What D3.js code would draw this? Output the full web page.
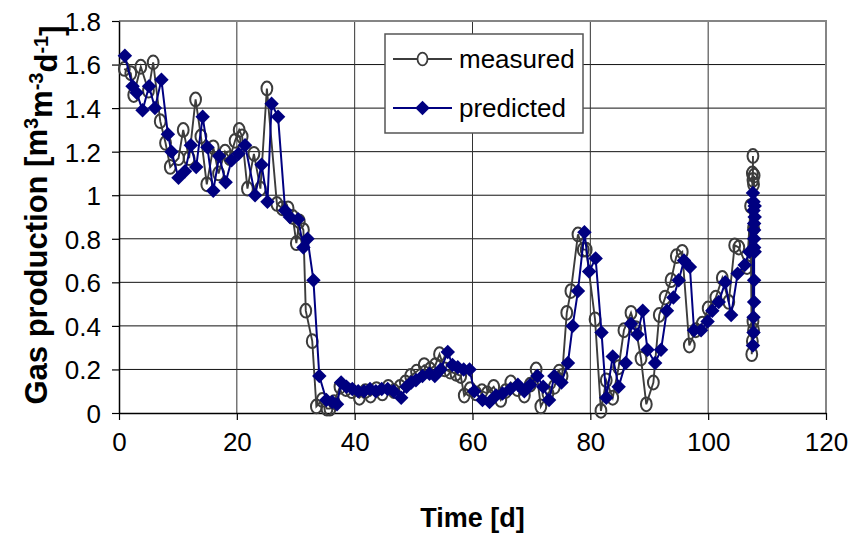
<!DOCTYPE html>
<html>
<head>
<meta charset="utf-8">
<script src="https://cdn.jsdelivr.net/npm/d3@7"></script>
<style>
  body { margin: 0; background: #fff; }
  text { font-family: "Liberation Sans", Arial, sans-serif; fill: #000; }
</style>
</head>
<body>
<div id="chart"></div>
<script>
// measured gas production (time in days, value in m3 m-3 d-1)
const measuredTime = [0.9, 2.0, 2.5, 3.7, 5.0, 5.8, 7.0, 7.9, 8.7, 10.1, 10.9, 11.9, 13.0, 13.9, 14.9, 16.0, 16.9, 18.0, 18.8, 19.7,
  20.4, 20.9, 21.8, 22.9, 24.0, 25.1, 26.8, 27.7, 28.7, 29.5, 30.1, 30.6, 31.3, 31.7, 32.8, 33.5, 34.5, 35.3, 35.8, 36.5,
  37.5, 38.5, 39.5, 40.8, 41.8, 42.7, 43.7, 44.7, 45.7, 46.7, 47.7, 48.6, 49.5, 50.5, 51.8, 52.8, 53.7, 54.4, 55.3, 56.2,
  57.2, 58.0, 58.6, 59.6, 60.6, 61.6, 62.5, 63.6, 64.8, 65.6, 66.5, 67.6, 68.8, 69.8, 70.8, 71.6, 72.8, 73.9, 74.7, 75.2,
  76.0, 76.7, 77.9, 78.8, 79.3, 80.8, 81.8, 82.7, 83.8, 84.8, 85.7, 86.9, 87.7, 88.6, 89.5, 90.7, 91.7, 92.7, 93.7, 94.6,
  95.6, 96.8, 97.9, 99.0, 100.0, 101.3, 102.4, 103.5, 104.5, 105.2, 106.6, 107.2, 107.4, 107.5, 107.5, 107.6, 107.6, 107.6,
  107.7, 107.7, 107.7, 107.8];
const measured = [1.58, 1.56, 1.46, 1.59, 1.48, 1.61, 1.34, 1.24, 1.13, 1.17, 1.30, 1.17, 1.44, 1.27, 1.05, 1.22, 1.10, 1.20, 1.17, 1.25,
  1.30, 1.27, 1.03, 1.19, 1.03, 1.49, 0.96, 0.94, 0.94, 0.90, 0.78, 0.88, 0.84, 0.47, 0.33, 0.03, 0.06, 0.02, 0.02, 0.05,
  0.12, 0.11, 0.10, 0.07, 0.10, 0.08, 0.11, 0.09, 0.12, 0.10, 0.12, 0.14, 0.17, 0.19, 0.22, 0.20, 0.22, 0.27, 0.20, 0.19,
  0.18, 0.17, 0.08, 0.11, 0.09, 0.10, 0.09, 0.12, 0.06, 0.10, 0.14, 0.11, 0.08, 0.13, 0.20, 0.03, 0.09, 0.12, 0.19, 0.17,
  0.46, 0.56, 0.82, 0.75, 0.75, 0.43, 0.01, 0.15, 0.07, 0.21, 0.38, 0.46, 0.39, 0.25, 0.04, 0.14, 0.45, 0.53, 0.61, 0.72,
  0.74, 0.31, 0.38, 0.41, 0.48, 0.53, 0.62, 0.51, 0.77, 0.76, 0.67, 0.95, 0.27, 1.10, 0.33, 1.18, 0.42, 1.07,
  0.38, 1.05, 0.85, 1.09];

// predicted gas production
const predictedTime = [1.0, 2.3, 3.0, 4.0, 5.1, 6.1, 7.2, 8.3, 8.9, 10.1, 11.2, 12.2, 13.1, 14.2, 15.0, 16.0, 17.0, 18.1, 19.1, 20.3,
  21.4, 23.1, 24.2, 25.2, 25.9, 27.0, 28.2, 29.0, 30.4, 31.3, 32.0, 33.0, 34.0, 35.2, 36.2, 37.0, 37.7, 38.6, 39.6, 40.6,
  41.6, 42.6, 43.6, 44.6, 45.6, 46.6, 47.9, 48.8, 49.6, 50.4, 51.5, 52.7, 53.6, 54.6, 55.8, 56.6, 57.5, 58.5, 59.5, 60.3,
  61.7, 62.9, 64.0, 65.1, 66.4, 67.7, 68.8, 69.8, 71.0, 72.0, 73.0, 73.9, 75.1, 76.2, 77.0, 77.9, 79.0, 79.8, 80.9, 81.9,
  82.7, 83.8, 84.8, 86.0, 86.9, 88.0, 88.9, 89.7, 91.0, 92.0, 93.0, 94.1, 95.0, 95.9, 96.9, 97.6, 98.8, 99.9, 100.7, 101.8,
  102.9, 103.9, 105.0, 106.2, 107.0, 107.6, 107.6, 107.7, 107.7, 107.7, 107.7, 107.8, 107.8, 107.8, 107.8, 107.8, 107.8,
  107.9, 107.9, 107.9];
const predicted = [1.64, 1.50, 1.47, 1.39, 1.50, 1.40, 1.53, 1.28, 1.20, 1.08, 1.11, 1.23, 1.13, 1.36, 1.22, 1.02, 1.18, 1.06, 1.16, 1.19,
  1.23, 1.00, 1.14, 0.97, 1.42, 1.36, 0.93, 0.90, 0.89, 0.76, 0.80, 0.61, 0.17, 0.06, 0.05, 0.04, 0.14, 0.12, 0.11, 0.10,
  0.10, 0.11, 0.10, 0.11, 0.11, 0.10, 0.07, 0.12, 0.14, 0.15, 0.17, 0.18, 0.17, 0.20, 0.28, 0.22, 0.21, 0.20, 0.20, 0.10,
  0.06, 0.05, 0.08, 0.09, 0.11, 0.13, 0.10, 0.13, 0.17, 0.12, 0.06, 0.17, 0.14, 0.23, 0.40, 0.56, 0.83, 0.65, 0.71, 0.37,
  0.07, 0.26, 0.12, 0.23, 0.41, 0.36, 0.47, 0.29, 0.23, 0.29, 0.47, 0.53, 0.61, 0.70, 0.67, 0.38, 0.38, 0.42, 0.47, 0.51,
  0.60, 0.45, 0.64, 0.68, 0.74, 1.01, 0.31, 0.97, 0.37, 0.93, 0.44, 0.87, 0.51, 0.84, 0.61, 0.80, 0.76,
  0.74, 0.90, 0.95];

const xTicks = [0, 20, 40, 60, 80, 100, 120];
const yTicks = [0, 0.2, 0.4, 0.6, 0.8, 1.0, 1.2, 1.4, 1.6, 1.8];
const seriesNames = ["measured", "predicted"];

const width = 857, height = 534;
const margin = { top: 21, right: 31, bottom: 121, left: 119 };
const innerW = width - margin.left - margin.right;
const innerH = height - margin.top - margin.bottom;

const svg = d3.select("#chart").append("svg")
  .attr("width", width)
  .attr("height", height);

const g = svg.append("g")
  .attr("transform", `translate(${margin.left},${margin.top})`);

const x = d3.scaleLinear().domain([0, 120]).range([0, innerW]);
const y = d3.scaleLinear().domain([0, 1.8]).range([innerH, 0]);

// gridlines
g.append("g")
  .selectAll("line")
  .data(yTicks.slice(1, -1))
  .enter().append("line")
  .attr("x1", 0).attr("x2", innerW)
  .attr("y1", d => y(d)).attr("y2", d => y(d))
  .attr("stroke", "#111").attr("stroke-width", 1);

g.append("g")
  .selectAll("line")
  .data(xTicks.slice(1, -1))
  .enter().append("line")
  .attr("x1", d => x(d)).attr("x2", d => x(d))
  .attr("y1", 0).attr("y2", innerH)
  .attr("stroke", "#333").attr("stroke-width", 1);

// plot border (top and right)
g.append("path")
  .attr("d", `M0,${y(1.8)}H${innerW}V${innerH}`)
  .attr("fill", "none")
  .attr("stroke", "#858585")
  .attr("stroke-width", 2);

// axes
const xAxis = g.append("g")
  .attr("transform", `translate(0,${innerH})`)
  .call(d3.axisBottom(x).tickValues(xTicks).tickSize(7).tickPadding(10).tickSizeOuter(0));

const yAxis = g.append("g")
  .call(d3.axisLeft(y).tickValues(yTicks).tickFormat(d3.format("~g")).tickSize(7).tickPadding(11).tickSizeOuter(0));

[xAxis, yAxis].forEach(a => {
  a.select(".domain").attr("stroke", "#000").attr("stroke-width", 1.5);
  a.selectAll(".tick line").attr("stroke", "#000").attr("stroke-width", 1.2);
  a.selectAll(".tick text")
    .style("font-family", "'Liberation Sans', Arial, sans-serif")
    .style("font-size", "26px")
    .attr("fill", "#000");
});
yAxis.selectAll(".tick text").attr("dy", "0.36em");
xAxis.selectAll(".tick text").attr("dy", "0.8em");

// series
const measuredData = measuredTime.map((t, i) => [t, measured[i]]);
const predictedData = predictedTime.map((t, i) => [t, predicted[i]]);

const line = d3.line().x(d => x(d[0])).y(d => y(d[1]));
const diamond = d3.symbol().type(d3.symbolSquare).size(105);

g.append("path")
  .datum(measuredData)
  .attr("d", line)
  .attr("fill", "none")
  .attr("stroke", "#3c3c3c")
  .attr("stroke-width", 1.9);

g.append("g")
  .selectAll("ellipse")
  .data(measuredData)
  .enter().append("ellipse")
  .attr("cx", d => x(d[0]))
  .attr("cy", d => y(d[1]))
  .attr("rx", 5.4)
  .attr("ry", 6.9)
  .attr("fill", "none")
  .attr("stroke", "#3c3c3c")
  .attr("stroke-width", 2);

g.append("path")
  .datum(predictedData)
  .attr("d", line)
  .attr("fill", "none")
  .attr("stroke", "#000080")
  .attr("stroke-width", 2);

g.append("g")
  .selectAll("path")
  .data(predictedData)
  .enter().append("path")
  .attr("d", diamond)
  .attr("transform", d => `translate(${x(d[0])},${y(d[1])}) rotate(45)`)
  .attr("fill", "#000080");

// legend
const legend = svg.append("g").attr("transform", "translate(385,34)");
legend.append("rect")
  .attr("width", 198).attr("height", 99)
  .attr("fill", "#fff")
  .attr("stroke", "#555").attr("stroke-width", 1.5);

seriesNames.forEach((name, i) => {
  const ly = 25 + i * 49;
  const row = legend.append("g").attr("transform", `translate(0,${ly})`);
  row.append("line")
    .attr("x1", 8).attr("x2", 67)
    .attr("stroke", i === 0 ? "#3c3c3c" : "#000080")
    .attr("stroke-width", i === 0 ? 1.9 : 2);
  if (i === 0) {
    row.append("ellipse").attr("cx", 37.5).attr("rx", 5).attr("ry", 6.3)
      .attr("fill", "#fff").attr("stroke", "#3c3c3c").attr("stroke-width", 1.8);
  } else {
    row.append("path").attr("d", diamond).attr("transform", "translate(37.5,0) rotate(45)").attr("fill", "#000080");
  }
  row.append("text")
    .attr("x", 74).attr("dy", "0.33em")
    .style("font-size", "26px")
    .text(name);
});

// axis titles
svg.append("text")
  .attr("x", margin.left + innerW / 2)
  .attr("y", 527)
  .attr("text-anchor", "middle")
  .style("font-size", "27px")
  .style("font-weight", "bold")
  .text("Time [d]");

const yTitle = svg.append("text")
  .attr("transform", `translate(47,${margin.top + innerH / 2 - 2}) rotate(-90)`)
  .attr("text-anchor", "middle")
  .style("font-size", "31px")
  .style("font-weight", "bold");
yTitle.append("tspan").text("Gas production [m");
yTitle.append("tspan").attr("dy", "-0.45em").style("font-size", "20px").text("3");
yTitle.append("tspan").attr("dy", "0.45em").text("m");
yTitle.append("tspan").attr("dy", "-0.45em").style("font-size", "20px").text("-3");
yTitle.append("tspan").attr("dy", "0.45em").text("d");
yTitle.append("tspan").attr("dy", "-0.45em").style("font-size", "20px").text("-1");
yTitle.append("tspan").attr("dy", "0.45em").text("]");
</script>
</body>
</html>
